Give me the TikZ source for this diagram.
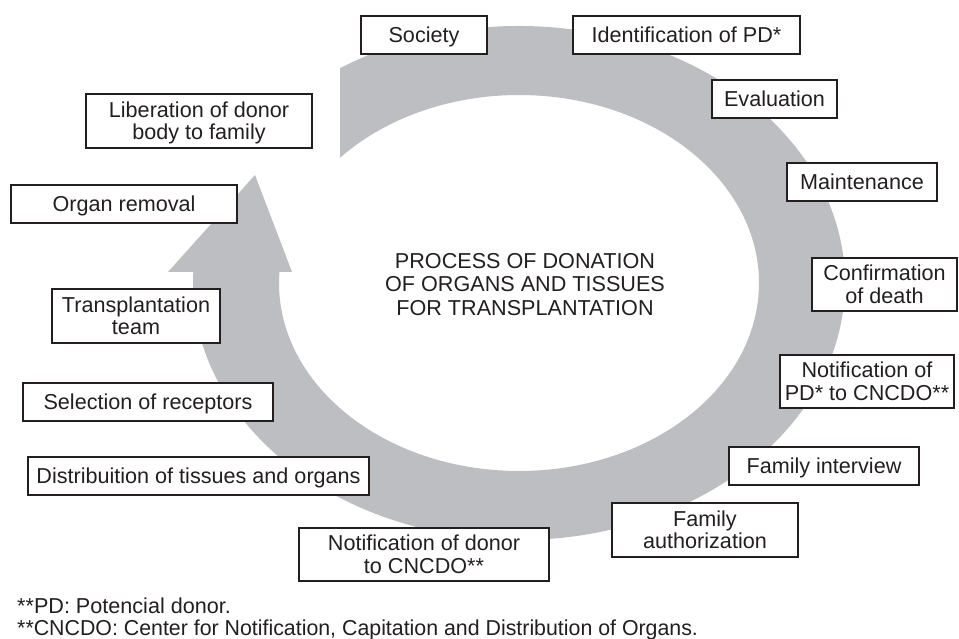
\documentclass[tikz,border=0pt]{standalone}
\usepackage{fontspec}
\setmainfont{Liberation Sans}
\usetikzlibrary{calc}
\definecolor{ringgray}{RGB}{189,190,193}
\definecolor{ink}{RGB}{35,31,32}
\newcommand\oneL[1]{\raisebox{0pt}[15.3pt][0pt]{#1}}
\newcommand\twoL[2]{\vbox{\offinterlineskip\halign{\hfil##\hfil\cr\oneL{#1}\cr\noalign{\kern7.2pt}\oneL{#2}\cr}}}
\newcommand\threeL[3]{\vbox{\offinterlineskip\halign{\hfil##\hfil\cr\oneL{#1}\cr\noalign{\kern8.2pt}\oneL{#2}\cr\noalign{\kern8.2pt}\oneL{#3}\cr}}}
\newcommand\footL[2]{\vbox{\offinterlineskip\halign{##\hfil\cr\oneL{#1}\cr\noalign{\kern6.7pt}\oneL{#2}\cr}}}
\begin{document}
\begin{tikzpicture}[x=1pt,y=1pt,
  every node/.style={font=\fontsize{21.6pt}{23pt}\selectfont, text=ink},
  stepbox/.style={draw=ink, line width=1.6pt, fill=white, inner sep=0pt},
  bx/.style 2 args={stepbox, minimum width=#1pt, minimum height=#2pt}]
\useasboundingbox (0,0) rectangle (959,639);
\fill[white] (0,0) rectangle (959,639);
% ring arrow
\fill[ringgray] ($(519,356)+(123.3:326pt and 257pt)$)
  arc[start angle=123.3, end angle=-182.5, x radius=326pt, y radius=257pt]
  -- (188,367) -- (168,367) -- (255,464) -- (292,367)
  -- ($(519,356)+(176.6:240pt and 188pt)$)
  arc[start angle=-183.4, end angle=138.2, x radius=240pt, y radius=188pt]
  -- cycle;
% boxes
\node[bx={126}{38}] (society) at (424,604) {\oneL{Society}};
\node[bx={227}{38}] (ident) at (686.5,604) {\oneL{Identification of PD*}};
\node[bx={125}{38}] (eval) at (774.5,540) {\oneL{Evaluation}};
\node[bx={150}{38}] (maint) at (862,457) {\oneL{Maintenance}};
\node[bx={145}{53}] (confirm) at (884.5,354.5) {\twoL{Confirmation}{of death}};
\node[bx={174}{53}] (notifpd) at (867,257.5) {\twoL{Notification of}{PD* to CNCDO**}};
\node[bx={190}{38}] (famint) at (824,173) {\oneL{Family interview}};
\node[bx={186}{54}] (famauth) at (705,109) {\twoL{Family}{authorization}};
\node[bx={250}{53}] (notifdonor) at (424,84.5) {\twoL{Notification of donor}{to CNCDO**}};
\node[bx={341}{38}] (distrib) at (198.5,163) {\oneL{Distribuition of tissues and organs}};
\node[bx={250}{38}] (select) at (148,237) {\oneL{Selection of receptors}};
\node[bx={168}{54}] (team) at (136,323) {\twoL{Transplantation}{team}};
\node[bx={226}{38}] (removal) at (124,435) {\oneL{Organ removal}};
\node[bx={226}{54}] (liberation) at (199,518) {\twoL{Liberation of donor}{body to family}};
% title
\node[inner sep=0pt] (title) at (525,355) {\threeL{PROCESS OF DONATION}{OF ORGANS AND TISSUES}{FOR TRANSPLANTATION}};
% footnotes
\node[inner sep=0pt, anchor=north west] (notes) at (17,41) {\footL{**PD: Potencial donor.}{\scalebox{0.988}[1]{**CNCDO: Center for Notification, Capitation and Distribution of Organs.}}};
\end{tikzpicture}
\end{document}
